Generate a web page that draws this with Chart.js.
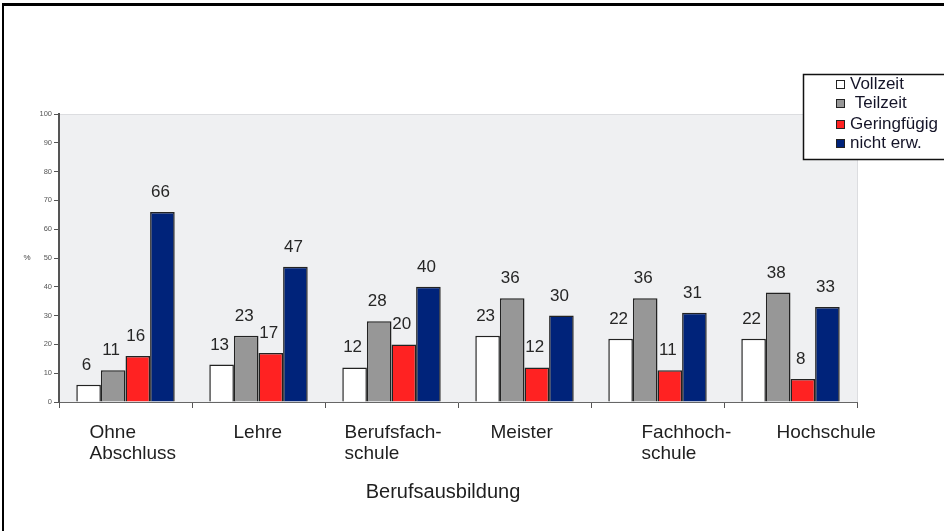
<!DOCTYPE html>
<html>
<head>
<meta charset="utf-8">
<script src="https://cdn.jsdelivr.net/npm/chart.js@4/dist/chart.umd.min.js"></script>
<style>
html,body{margin:0;padding:0;background:#fff;}
#wrap{width:944px;height:531px;position:relative;}
</style>
</head>
<body>
<div id="wrap"><canvas id="c" width="944" height="531"></canvas></div>
<script>
// ---- data ----
const categories = [["Ohne","Abschluss"],["Lehre"],["Berufsfach-","schule"],["Meister"],["Fachhoch-","schule"],["Hochschule"]];
const seriesNames = ["Vollzeit"," Teilzeit","Geringfügig","nicht erw."];
const vollzeit = [6, 13, 12, 23, 22, 22];
const teilzeit = [11, 23, 28, 36, 36, 38];
const geringfuegig = [16, 17, 20, 12, 11, 8];
const nichtErw = [66, 47, 40, 30, 31, 33];
const yTickValues = [0,10,20,30,40,50,60,70,80,90,100];
const xAxisTitle = "Berufsausbildung";
const yAxisTitle = "%";

// ---- styles ----
const fills = ["#ffffff","#979797","#ff2222","#00237a"];
const labelShift = [-36,-25,-47,-34,-16,-14];
const FONT = "'Liberation Sans', Arial, sans-serif";

const framePlugin = {
  id: 'frame',
  beforeDraw(chart){
    const {ctx, chartArea:a} = chart;
    ctx.save();
    ctx.fillStyle = '#eff0f2';
    ctx.fillRect(a.left, a.top, a.right - a.left, a.bottom - a.top);
    ctx.strokeStyle = '#dcdde0';
    ctx.lineWidth = 1;
    ctx.beginPath();
    ctx.moveTo(a.left, a.top + 0.5); ctx.lineTo(a.right, a.top + 0.5);
    ctx.moveTo(a.right + 0.5, a.top); ctx.lineTo(a.right + 0.5, a.bottom);
    ctx.stroke();
    ctx.restore();
  },
  afterDraw(chart){
    const {ctx, chartArea:a, scales} = chart;
    ctx.save();
    // value labels
    ctx.font = '17px ' + FONT;
    ctx.fillStyle = '#262626';
    ctx.textAlign = 'center';
    ctx.textBaseline = 'alphabetic';
    chart.data.datasets.forEach((ds, di) => {
      const meta = chart.getDatasetMeta(di);
      meta.data.forEach((bar, i) => {
        ctx.fillText(String(ds.data[i]), bar.x - 2, bar.y - 15);
      });
    });
    // category labels
    ctx.font = '19px ' + FONT;
    ctx.fillStyle = '#1e1e1e';
    ctx.textAlign = 'left';
    ctx.textBaseline = 'middle';
    categories.forEach((lines, i) => {
      const cx = scales.x.getPixelForValue(i) + labelShift[i];
      lines.forEach((ln, k) => ctx.fillText(ln, cx, a.bottom + 31 + k * 21));
    });
    // x axis title
    ctx.font = '20px ' + FONT;
    ctx.textAlign = 'center';
    ctx.fillText(xAxisTitle, (a.left + a.right) / 2 - 15, a.bottom + 90);
    // y axis title
    ctx.font = '8px ' + FONT;
    ctx.fillStyle = '#444';
    ctx.fillText(yAxisTitle, 27, (a.top + a.bottom) / 2);
    // legend
    ctx.fillStyle = '#fff';
    ctx.fillRect(803, 74, 150, 85);
    ctx.strokeStyle = '#111';
    ctx.lineWidth = 1.5;
    ctx.strokeRect(803.5, 74.5, 150, 85);
    const rows = [84, 103, 124, 143];
    ctx.font = '17px ' + FONT;
    ctx.textAlign = 'left';
    ctx.textBaseline = 'middle';
    seriesNames.forEach((n, i) => {
      ctx.fillStyle = fills[i];
      ctx.fillRect(836, rows[i] - 4, 9, 9);
      ctx.strokeStyle = '#222';
      ctx.lineWidth = 1;
      ctx.strokeRect(836.5, rows[i] - 3.5, 8, 8);
      ctx.fillStyle = '#141428';
      ctx.fillText(n, 850, rows[i]);
    });
    // outer frame
    ctx.fillStyle = '#000';
    ctx.fillRect(2, 3, 942, 3);
    ctx.fillRect(2, 3, 2, 528);
    ctx.restore();
  }
};

const mk = (label, data, i) => ({
  label, data,
  backgroundColor: fills[i],
  borderColor: '#222',
  borderWidth: 1.5,
  borderSkipped: 'bottom'
});

new Chart(document.getElementById('c'), {
  type: 'bar',
  data: {
    labels: categories.map(c => c.join(' ')),
    datasets: [
      mk(seriesNames[0], vollzeit, 0),
      mk(seriesNames[1], teilzeit, 1),
      mk(seriesNames[2], geringfuegig, 2),
      mk(seriesNames[3], nichtErw, 3)
    ]
  },
  options: {
    responsive: false,
    animation: false,
    devicePixelRatio: 1,
    layout: { padding: { top: 114, right: 87, left: 0, bottom: 0 } },
    plugins: { legend: { display: false }, tooltip: { enabled: false }, title: { display: false } },
    datasets: { bar: { categoryPercentage: 0.74, barPercentage: 1.0 } },
    scales: {
      x: {
        offset: true,
        grid: { display: true, offset: true, drawOnChartArea: false, drawTicks: true, tickLength: 6, color: '#555', lineWidth: 1 },
        border: { display: true, color: '#666', width: 1 },
        ticks: { display: false },
        afterFit(s){ s.height = 129; }
      },
      y: {
        min: 0, max: 100,
        afterBuildTicks(s){ s.ticks = yTickValues.map(v => ({ value: v })); },
        grid: { display: true, drawOnChartArea: false, drawTicks: true, tickLength: 5, color: '#555' },
        border: { display: true, color: '#555', width: 2 },
        ticks: { font: { size: 7.5, family: FONT }, color: '#555', padding: 2 },
        afterFit(s){ s.width = 59; }
      }
    }
  },
  plugins: [framePlugin]
});
</script>
</body>
</html>
